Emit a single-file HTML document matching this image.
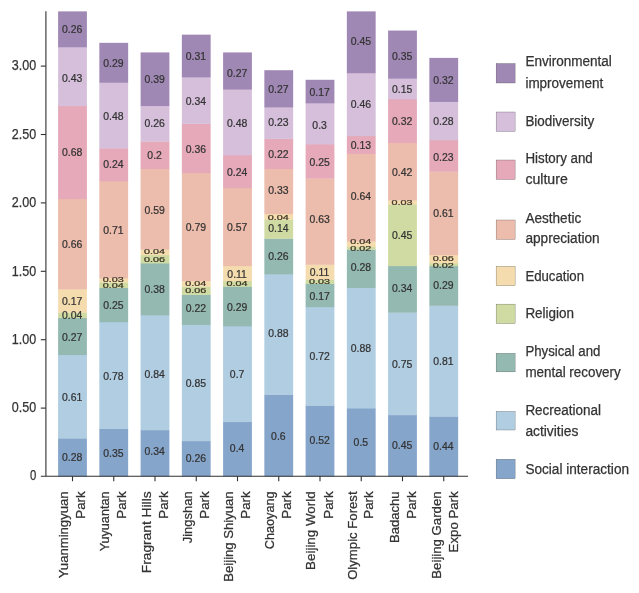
<!DOCTYPE html>
<html lang="en">
<head>
<meta charset="utf-8">
<title>Cultural ecosystem services of Beijing parks</title>
<style>
html,body{margin:0;padding:0;background:#fff;}
body{width:639px;height:593px;overflow:hidden;font-family:"Liberation Sans",sans-serif;}
svg{display:block;}
</style>
</head>
<body>
<svg width="639" height="593" viewBox="0 0 639 593" font-family="'Liberation Sans', sans-serif">
<rect width="639" height="593" fill="#fff"/>
<g>
<rect x="58.10" y="438.20" width="28.80" height="38.30" fill="#86a5cb"/>
<rect x="58.10" y="354.75" width="28.80" height="83.75" fill="#b0cde2"/>
<rect x="58.10" y="317.81" width="28.80" height="37.24" fill="#93b9b0"/>
<rect x="58.10" y="312.34" width="28.80" height="5.77" fill="#cfdba2"/>
<rect x="58.10" y="289.08" width="28.80" height="23.56" fill="#f5dcae"/>
<rect x="58.10" y="198.80" width="28.80" height="90.59" fill="#ecbcac"/>
<rect x="58.10" y="105.77" width="28.80" height="93.32" fill="#e5a9b9"/>
<rect x="58.10" y="46.95" width="28.80" height="59.12" fill="#d5bfdb"/>
<rect x="58.10" y="11.38" width="28.80" height="35.87" fill="#a088b5"/>
</g>
<g>
<rect x="99.35" y="428.62" width="28.80" height="47.88" fill="#86a5cb"/>
<rect x="99.35" y="321.92" width="28.80" height="107.00" fill="#b0cde2"/>
<rect x="99.35" y="287.72" width="28.80" height="34.50" fill="#93b9b0"/>
<rect x="99.35" y="282.24" width="28.80" height="5.77" fill="#cfdba2"/>
<rect x="99.35" y="278.14" width="28.80" height="4.40" fill="#f5dcae"/>
<rect x="99.35" y="181.01" width="28.80" height="97.43" fill="#ecbcac"/>
<rect x="99.35" y="148.18" width="28.80" height="33.13" fill="#e5a9b9"/>
<rect x="99.35" y="82.52" width="28.80" height="65.96" fill="#d5bfdb"/>
<rect x="99.35" y="42.84" width="28.80" height="39.97" fill="#a088b5"/>
</g>
<g>
<rect x="140.60" y="429.99" width="28.80" height="46.51" fill="#86a5cb"/>
<rect x="140.60" y="315.08" width="28.80" height="115.21" fill="#b0cde2"/>
<rect x="140.60" y="263.09" width="28.80" height="52.28" fill="#93b9b0"/>
<rect x="140.60" y="254.88" width="28.80" height="8.51" fill="#cfdba2"/>
<rect x="140.60" y="249.41" width="28.80" height="5.77" fill="#f5dcae"/>
<rect x="140.60" y="168.70" width="28.80" height="81.01" fill="#ecbcac"/>
<rect x="140.60" y="141.34" width="28.80" height="27.66" fill="#e5a9b9"/>
<rect x="140.60" y="105.77" width="28.80" height="35.87" fill="#d5bfdb"/>
<rect x="140.60" y="52.42" width="28.80" height="53.65" fill="#a088b5"/>
</g>
<g>
<rect x="181.85" y="440.93" width="28.80" height="35.57" fill="#86a5cb"/>
<rect x="181.85" y="324.65" width="28.80" height="116.58" fill="#b0cde2"/>
<rect x="181.85" y="294.56" width="28.80" height="30.40" fill="#93b9b0"/>
<rect x="181.85" y="286.35" width="28.80" height="8.51" fill="#cfdba2"/>
<rect x="181.85" y="280.88" width="28.80" height="5.77" fill="#f5dcae"/>
<rect x="181.85" y="172.80" width="28.80" height="108.37" fill="#ecbcac"/>
<rect x="181.85" y="123.56" width="28.80" height="49.55" fill="#e5a9b9"/>
<rect x="181.85" y="77.04" width="28.80" height="46.81" fill="#d5bfdb"/>
<rect x="181.85" y="34.64" width="28.80" height="42.71" fill="#a088b5"/>
</g>
<g>
<rect x="223.10" y="421.78" width="28.80" height="54.72" fill="#86a5cb"/>
<rect x="223.10" y="326.02" width="28.80" height="96.06" fill="#b0cde2"/>
<rect x="223.10" y="286.35" width="28.80" height="39.97" fill="#93b9b0"/>
<rect x="223.10" y="280.88" width="28.80" height="5.77" fill="#cfdba2"/>
<rect x="223.10" y="265.83" width="28.80" height="15.35" fill="#f5dcae"/>
<rect x="223.10" y="187.85" width="28.80" height="78.28" fill="#ecbcac"/>
<rect x="223.10" y="155.02" width="28.80" height="33.13" fill="#e5a9b9"/>
<rect x="223.10" y="89.36" width="28.80" height="65.96" fill="#d5bfdb"/>
<rect x="223.10" y="52.42" width="28.80" height="37.24" fill="#a088b5"/>
</g>
<g>
<rect x="264.35" y="394.42" width="28.80" height="82.08" fill="#86a5cb"/>
<rect x="264.35" y="274.04" width="28.80" height="120.68" fill="#b0cde2"/>
<rect x="264.35" y="238.47" width="28.80" height="35.87" fill="#93b9b0"/>
<rect x="264.35" y="219.32" width="28.80" height="19.45" fill="#cfdba2"/>
<rect x="264.35" y="213.84" width="28.80" height="5.77" fill="#f5dcae"/>
<rect x="264.35" y="168.70" width="28.80" height="45.44" fill="#ecbcac"/>
<rect x="264.35" y="138.60" width="28.80" height="30.40" fill="#e5a9b9"/>
<rect x="264.35" y="107.14" width="28.80" height="31.76" fill="#d5bfdb"/>
<rect x="264.35" y="70.20" width="28.80" height="37.24" fill="#a088b5"/>
</g>
<g>
<rect x="305.60" y="405.36" width="28.80" height="71.14" fill="#86a5cb"/>
<rect x="305.60" y="306.87" width="28.80" height="98.80" fill="#b0cde2"/>
<rect x="305.60" y="283.61" width="28.80" height="23.56" fill="#93b9b0"/>
<rect x="305.60" y="279.51" width="28.80" height="4.40" fill="#cfdba2"/>
<rect x="305.60" y="264.46" width="28.80" height="15.35" fill="#f5dcae"/>
<rect x="305.60" y="178.28" width="28.80" height="86.48" fill="#ecbcac"/>
<rect x="305.60" y="144.08" width="28.80" height="34.50" fill="#e5a9b9"/>
<rect x="305.60" y="103.04" width="28.80" height="41.34" fill="#d5bfdb"/>
<rect x="305.60" y="79.78" width="28.80" height="23.56" fill="#a088b5"/>
</g>
<g>
<rect x="346.85" y="408.10" width="28.80" height="68.40" fill="#86a5cb"/>
<rect x="346.85" y="287.72" width="28.80" height="120.68" fill="#b0cde2"/>
<rect x="346.85" y="249.41" width="28.80" height="38.60" fill="#93b9b0"/>
<rect x="346.85" y="246.68" width="28.80" height="3.04" fill="#cfdba2"/>
<rect x="346.85" y="241.20" width="28.80" height="5.77" fill="#f5dcae"/>
<rect x="346.85" y="153.65" width="28.80" height="87.85" fill="#ecbcac"/>
<rect x="346.85" y="135.87" width="28.80" height="18.08" fill="#e5a9b9"/>
<rect x="346.85" y="72.94" width="28.80" height="63.23" fill="#d5bfdb"/>
<rect x="346.85" y="11.38" width="28.80" height="61.86" fill="#a088b5"/>
</g>
<g>
<rect x="388.10" y="414.94" width="28.80" height="61.56" fill="#86a5cb"/>
<rect x="388.10" y="312.34" width="28.80" height="102.90" fill="#b0cde2"/>
<rect x="388.10" y="265.83" width="28.80" height="46.81" fill="#93b9b0"/>
<rect x="388.10" y="204.27" width="28.80" height="61.86" fill="#cfdba2"/>
<rect x="388.10" y="200.16" width="28.80" height="4.40" fill="#f5dcae"/>
<rect x="388.10" y="142.71" width="28.80" height="57.76" fill="#ecbcac"/>
<rect x="388.10" y="98.93" width="28.80" height="44.08" fill="#e5a9b9"/>
<rect x="388.10" y="78.41" width="28.80" height="20.82" fill="#d5bfdb"/>
<rect x="388.10" y="30.53" width="28.80" height="48.18" fill="#a088b5"/>
</g>
<g>
<rect x="429.35" y="416.31" width="28.80" height="60.19" fill="#86a5cb"/>
<rect x="429.35" y="305.50" width="28.80" height="111.11" fill="#b0cde2"/>
<rect x="429.35" y="265.83" width="28.80" height="39.97" fill="#93b9b0"/>
<rect x="429.35" y="263.09" width="28.80" height="3.04" fill="#cfdba2"/>
<rect x="429.35" y="254.88" width="28.80" height="8.51" fill="#f5dcae"/>
<rect x="429.35" y="171.44" width="28.80" height="83.75" fill="#ecbcac"/>
<rect x="429.35" y="139.97" width="28.80" height="31.76" fill="#e5a9b9"/>
<rect x="429.35" y="101.67" width="28.80" height="38.60" fill="#d5bfdb"/>
<rect x="429.35" y="57.89" width="28.80" height="44.08" fill="#a088b5"/>
</g>
<g stroke="#303030" stroke-width="1.1" fill="none">
<path d="M45.9 11.2V476.3"/>
<path d="M40.8 476.3H468"/>
<path d="M40.8 408.10H45.9"/>
<path d="M40.8 339.70H45.9"/>
<path d="M40.8 271.30H45.9"/>
<path d="M40.8 202.90H45.9"/>
<path d="M40.8 134.50H45.9"/>
<path d="M40.8 66.10H45.9"/>
<path d="M72.50 476.3V481.2"/>
<path d="M113.75 476.3V481.2"/>
<path d="M155.00 476.3V481.2"/>
<path d="M196.25 476.3V481.2"/>
<path d="M237.50 476.3V481.2"/>
<path d="M278.75 476.3V481.2"/>
<path d="M320.00 476.3V481.2"/>
<path d="M361.25 476.3V481.2"/>
<path d="M402.50 476.3V481.2"/>
<path d="M443.75 476.3V481.2"/>
</g>
<g font-size="14" fill="#333333" stroke="#333333" stroke-width="0.25" text-anchor="end">
<text x="36.2" y="479.70" textLength="6.30" lengthAdjust="spacingAndGlyphs">0</text>
<text x="36.2" y="412.40" textLength="24.40" lengthAdjust="spacingAndGlyphs">0.50</text>
<text x="36.2" y="344.00" textLength="24.40" lengthAdjust="spacingAndGlyphs">1.00</text>
<text x="36.2" y="275.60" textLength="24.40" lengthAdjust="spacingAndGlyphs">1.50</text>
<text x="36.2" y="207.20" textLength="24.40" lengthAdjust="spacingAndGlyphs">2.00</text>
<text x="36.2" y="138.80" textLength="24.40" lengthAdjust="spacingAndGlyphs">2.50</text>
<text x="36.2" y="70.40" textLength="24.40" lengthAdjust="spacingAndGlyphs">3.00</text>
</g>
<g font-size="11.6" fill="#333333" stroke="#333333" stroke-width="0.25" text-anchor="middle">
<text transform="translate(72.10 456.89) scale(0.90 1)" x="0" y="4.15">0.28</text>
<text transform="translate(72.10 397.15) scale(0.90 1)" x="0" y="4.15">0.61</text>
<text transform="translate(72.10 336.59) scale(0.90 1)" x="0" y="4.15">0.27</text>
<text transform="translate(72.10 314.93) scale(0.90 1)" x="0" y="4.15">0.04</text>
<text transform="translate(72.10 301.10) scale(0.90 1)" x="0" y="4.15">0.17</text>
<text transform="translate(72.10 243.45) scale(0.90 1)" x="0" y="4.15">0.66</text>
<text transform="translate(72.10 151.49) scale(0.90 1)" x="0" y="4.15">0.68</text>
<text transform="translate(72.10 77.94) scale(0.90 1)" x="0" y="4.15">0.43</text>
<text transform="translate(72.10 28.64) scale(0.90 1)" x="0" y="4.15">0.26</text>
<text transform="translate(113.35 453.11) scale(0.90 1)" x="0" y="4.15">0.35</text>
<text transform="translate(113.35 375.59) scale(0.90 1)" x="0" y="4.15">0.78</text>
<text transform="translate(113.35 304.69) scale(0.90 1)" x="0" y="4.15">0.25</text>
<text transform="translate(113.35 285.50) scale(0.93 0.55)" x="0" y="4.15" stroke="#3a3226" stroke-width="0.35" fill="#3a3226">0.04</text>
<text transform="translate(113.35 279.52) scale(0.93 0.55)" x="0" y="4.15" stroke="#3a3226" stroke-width="0.35" fill="#3a3226">0.03</text>
<text transform="translate(113.35 229.62) scale(0.90 1)" x="0" y="4.15">0.71</text>
<text transform="translate(113.35 164.28) scale(0.90 1)" x="0" y="4.15">0.24</text>
<text transform="translate(113.35 116.34) scale(0.90 1)" x="0" y="4.15">0.48</text>
<text transform="translate(113.35 63.09) scale(0.90 1)" x="0" y="4.15">0.29</text>
<text transform="translate(154.60 451.10) scale(0.90 1)" x="0" y="4.15">0.34</text>
<text transform="translate(154.60 373.36) scale(0.90 1)" x="0" y="4.15">0.84</text>
<text transform="translate(154.60 289.00) scale(0.90 1)" x="0" y="4.15">0.38</text>
<text transform="translate(154.60 259.96) scale(0.93 0.55)" x="0" y="4.15" stroke="#3a3226" stroke-width="0.35" fill="#3a3226">0.06</text>
<text transform="translate(154.60 251.64) scale(0.93 0.55)" x="0" y="4.15" stroke="#3a3226" stroke-width="0.35" fill="#3a3226">0.04</text>
<text transform="translate(154.60 209.44) scale(0.90 1)" x="0" y="4.15">0.59</text>
<text transform="translate(154.60 155.22) scale(0.90 1)" x="0" y="4.15">0.2</text>
<text transform="translate(154.60 123.13) scale(0.90 1)" x="0" y="4.15">0.26</text>
<text transform="translate(154.60 78.77) scale(0.90 1)" x="0" y="4.15">0.39</text>
<text transform="translate(195.85 457.75) scale(0.90 1)" x="0" y="4.15">0.26</text>
<text transform="translate(195.85 383.00) scale(0.90 1)" x="0" y="4.15">0.85</text>
<text transform="translate(195.85 308.27) scale(0.90 1)" x="0" y="4.15">0.22</text>
<text transform="translate(195.85 290.36) scale(0.93 0.55)" x="0" y="4.15" stroke="#3a3226" stroke-width="0.35" fill="#3a3226">0.06</text>
<text transform="translate(195.85 283.54) scale(0.93 0.55)" x="0" y="4.15" stroke="#3a3226" stroke-width="0.35" fill="#3a3226">0.04</text>
<text transform="translate(195.85 226.89) scale(0.90 1)" x="0" y="4.15">0.79</text>
<text transform="translate(195.85 148.40) scale(0.90 1)" x="0" y="4.15">0.36</text>
<text transform="translate(195.85 100.63) scale(0.90 1)" x="0" y="4.15">0.34</text>
<text transform="translate(195.85 55.56) scale(0.90 1)" x="0" y="4.15">0.31</text>
<text transform="translate(237.10 448.10) scale(0.90 1)" x="0" y="4.15">0.4</text>
<text transform="translate(237.10 373.62) scale(0.90 1)" x="0" y="4.15">0.7</text>
<text transform="translate(237.10 306.56) scale(0.90 1)" x="0" y="4.15">0.29</text>
<text transform="translate(237.10 284.03) scale(0.93 0.55)" x="0" y="4.15" stroke="#3a3226" stroke-width="0.35" fill="#3a3226">0.04</text>
<text transform="translate(237.10 273.80) scale(0.90 1)" x="0" y="4.15">0.11</text>
<text transform="translate(237.10 226.89) scale(0.90 1)" x="0" y="4.15">0.57</text>
<text transform="translate(237.10 172.30) scale(0.90 1)" x="0" y="4.15">0.24</text>
<text transform="translate(237.10 122.46) scale(0.90 1)" x="0" y="4.15">0.48</text>
<text transform="translate(237.10 72.48) scale(0.90 1)" x="0" y="4.15">0.27</text>
<text transform="translate(278.35 435.65) scale(0.90 1)" x="0" y="4.15">0.6</text>
<text transform="translate(278.35 332.84) scale(0.90 1)" x="0" y="4.15">0.88</text>
<text transform="translate(278.35 256.24) scale(0.90 1)" x="0" y="4.15">0.26</text>
<text transform="translate(278.35 227.94) scale(0.90 1)" x="0" y="4.15">0.14</text>
<text transform="translate(278.35 217.35) scale(0.93 0.55)" x="0" y="4.15" stroke="#3a3226" stroke-width="0.35" fill="#3a3226">0.04</text>
<text transform="translate(278.35 189.90) scale(0.90 1)" x="0" y="4.15">0.33</text>
<text transform="translate(278.35 153.86) scale(0.90 1)" x="0" y="4.15">0.22</text>
<text transform="translate(278.35 121.95) scale(0.90 1)" x="0" y="4.15">0.23</text>
<text transform="translate(278.35 88.52) scale(0.90 1)" x="0" y="4.15">0.27</text>
<text transform="translate(319.60 440.21) scale(0.90 1)" x="0" y="4.15">0.52</text>
<text transform="translate(319.60 355.38) scale(0.90 1)" x="0" y="4.15">0.72</text>
<text transform="translate(319.60 296.34) scale(0.90 1)" x="0" y="4.15">0.17</text>
<text transform="translate(319.60 281.49) scale(0.93 0.55)" x="0" y="4.15" stroke="#3a3226" stroke-width="0.35" fill="#3a3226">0.03</text>
<text transform="translate(319.60 271.93) scale(0.90 1)" x="0" y="4.15">0.11</text>
<text transform="translate(319.60 219.33) scale(0.90 1)" x="0" y="4.15">0.63</text>
<text transform="translate(319.60 161.37) scale(0.90 1)" x="0" y="4.15">0.25</text>
<text transform="translate(319.60 124.53) scale(0.90 1)" x="0" y="4.15">0.3</text>
<text transform="translate(319.60 91.75) scale(0.90 1)" x="0" y="4.15">0.17</text>
<text transform="translate(360.85 442.18) scale(0.90 1)" x="0" y="4.15">0.5</text>
<text transform="translate(360.85 347.39) scale(0.90 1)" x="0" y="4.15">0.88</text>
<text transform="translate(360.85 267.12) scale(0.90 1)" x="0" y="4.15">0.28</text>
<text transform="translate(360.85 248.95) scale(0.93 0.55)" x="0" y="4.15" stroke="#3a3226" stroke-width="0.35" fill="#3a3226">0.02</text>
<text transform="translate(360.85 241.35) scale(0.93 0.55)" x="0" y="4.15" stroke="#3a3226" stroke-width="0.35" fill="#3a3226">0.04</text>
<text transform="translate(360.85 196.14) scale(0.90 1)" x="0" y="4.15">0.64</text>
<text transform="translate(360.85 144.69) scale(0.90 1)" x="0" y="4.15">0.13</text>
<text transform="translate(360.85 104.22) scale(0.90 1)" x="0" y="4.15">0.46</text>
<text transform="translate(360.85 40.91) scale(0.90 1)" x="0" y="4.15">0.45</text>
<text transform="translate(402.10 444.59) scale(0.90 1)" x="0" y="4.15">0.45</text>
<text transform="translate(402.10 363.39) scale(0.90 1)" x="0" y="4.15">0.75</text>
<text transform="translate(402.10 288.00) scale(0.90 1)" x="0" y="4.15">0.34</text>
<text transform="translate(402.10 235.08) scale(0.90 1)" x="0" y="4.15">0.45</text>
<text transform="translate(402.10 202.32) scale(0.93 0.55)" x="0" y="4.15" stroke="#3a3226" stroke-width="0.35" fill="#3a3226">0.03</text>
<text transform="translate(402.10 171.61) scale(0.90 1)" x="0" y="4.15">0.42</text>
<text transform="translate(402.10 120.60) scale(0.90 1)" x="0" y="4.15">0.32</text>
<text transform="translate(402.10 89.02) scale(0.90 1)" x="0" y="4.15">0.15</text>
<text transform="translate(402.10 55.40) scale(0.90 1)" x="0" y="4.15">0.35</text>
<text transform="translate(443.35 445.97) scale(0.90 1)" x="0" y="4.15">0.44</text>
<text transform="translate(443.35 361.16) scale(0.90 1)" x="0" y="4.15">0.81</text>
<text transform="translate(443.35 284.38) scale(0.90 1)" x="0" y="4.15">0.29</text>
<text transform="translate(443.35 265.42) scale(0.93 0.55)" x="0" y="4.15" stroke="#3a3226" stroke-width="0.35" fill="#3a3226">0.02</text>
<text transform="translate(443.35 258.96) scale(0.93 0.55)" x="0" y="4.15" stroke="#3a3226" stroke-width="0.35" fill="#3a3226">0.06</text>
<text transform="translate(443.35 213.24) scale(0.90 1)" x="0" y="4.15">0.61</text>
<text transform="translate(443.35 156.41) scale(0.90 1)" x="0" y="4.15">0.23</text>
<text transform="translate(443.35 120.60) scale(0.90 1)" x="0" y="4.15">0.28</text>
<text transform="translate(443.35 80.15) scale(0.90 1)" x="0" y="4.15">0.32</text>
</g>
<g font-size="13.1" fill="#333333" stroke="#333333" stroke-width="0.25" text-anchor="end">
<text transform="translate(68.10 491.4) rotate(-90)" x="0" y="0" textLength="86.75" lengthAdjust="spacingAndGlyphs">Yuanmingyuan</text>
<text transform="translate(85.20 491.4) rotate(-90)" x="0" y="0" textLength="27.26" lengthAdjust="spacingAndGlyphs">Park</text>
<text transform="translate(109.35 491.4) rotate(-90)" x="0" y="0" textLength="59.94" lengthAdjust="spacingAndGlyphs">Yuyuantan</text>
<text transform="translate(126.05 491.4) rotate(-90)" x="0" y="0" textLength="27.26" lengthAdjust="spacingAndGlyphs">Park</text>
<text transform="translate(150.60 491.4) rotate(-90)" x="0" y="0" textLength="81.80" lengthAdjust="spacingAndGlyphs">Fragrant Hills</text>
<text transform="translate(168.30 491.4) rotate(-90)" x="0" y="0" textLength="27.26" lengthAdjust="spacingAndGlyphs">Park</text>
<text transform="translate(191.85 491.4) rotate(-90)" x="0" y="0" textLength="51.90" lengthAdjust="spacingAndGlyphs">Jingshan</text>
<text transform="translate(209.05 491.4) rotate(-90)" x="0" y="0" textLength="27.26" lengthAdjust="spacingAndGlyphs">Park</text>
<text transform="translate(232.60 491.4) rotate(-90)" x="0" y="0" textLength="90.32" lengthAdjust="spacingAndGlyphs">Beijing Shiyuan</text>
<text transform="translate(249.80 491.4) rotate(-90)" x="0" y="0" textLength="27.26" lengthAdjust="spacingAndGlyphs">Park</text>
<text transform="translate(274.35 491.4) rotate(-90)" x="0" y="0" textLength="57.88" lengthAdjust="spacingAndGlyphs">Chaoyang</text>
<text transform="translate(291.45 491.4) rotate(-90)" x="0" y="0" textLength="27.26" lengthAdjust="spacingAndGlyphs">Park</text>
<text transform="translate(315.10 491.4) rotate(-90)" x="0" y="0" textLength="78.51" lengthAdjust="spacingAndGlyphs">Beijing World</text>
<text transform="translate(332.80 491.4) rotate(-90)" x="0" y="0" textLength="27.26" lengthAdjust="spacingAndGlyphs">Park</text>
<text transform="translate(356.85 491.4) rotate(-90)" x="0" y="0" textLength="88.48" lengthAdjust="spacingAndGlyphs">Olympic Forest</text>
<text transform="translate(373.45 491.4) rotate(-90)" x="0" y="0" textLength="27.26" lengthAdjust="spacingAndGlyphs">Park</text>
<text transform="translate(399.10 491.4) rotate(-90)" x="0" y="0" textLength="51.60" lengthAdjust="spacingAndGlyphs">Badachu</text>
<text transform="translate(415.80 491.4) rotate(-90)" x="0" y="0" textLength="27.26" lengthAdjust="spacingAndGlyphs">Park</text>
<text transform="translate(440.55 491.4) rotate(-90)" x="0" y="0" textLength="87.30" lengthAdjust="spacingAndGlyphs">Beijing Garden</text>
<text transform="translate(457.75 491.4) rotate(-90)" x="0" y="0" textLength="61.02" lengthAdjust="spacingAndGlyphs">Expo Park</text>
</g>
<g font-size="13.8" fill="#333333" stroke="#333333" stroke-width="0.25">
<rect x="496.1" y="63.50" width="19.0" height="19.5" fill="#a088b5"/>
<text x="525.4" y="66.25" textLength="86.47" lengthAdjust="spacingAndGlyphs">Environmental</text>
<text x="525.4" y="87.50" textLength="77.86" lengthAdjust="spacingAndGlyphs">improvement</text>
<rect x="496.1" y="112.00" width="19.0" height="19.5" fill="#d5bfdb"/>
<text x="525.4" y="125.50" textLength="68.75" lengthAdjust="spacingAndGlyphs">Biodiversity</text>
<rect x="496.1" y="160.00" width="19.0" height="19.5" fill="#e5a9b9"/>
<text x="525.4" y="163.00" textLength="67.37" lengthAdjust="spacingAndGlyphs">History and</text>
<text x="525.4" y="184.25" textLength="42.40" lengthAdjust="spacingAndGlyphs">culture</text>
<rect x="496.1" y="220.00" width="19.0" height="19.5" fill="#ecbcac"/>
<text x="525.4" y="222.50" textLength="55.88" lengthAdjust="spacingAndGlyphs">Aesthetic</text>
<text x="525.4" y="243.25" textLength="74.30" lengthAdjust="spacingAndGlyphs">appreciation</text>
<rect x="496.1" y="266.25" width="19.0" height="19.5" fill="#f5dcae"/>
<text x="525.4" y="280.50" textLength="58.65" lengthAdjust="spacingAndGlyphs">Education</text>
<rect x="496.1" y="304.10" width="19.0" height="19.5" fill="#cfdba2"/>
<text x="525.4" y="318.00" textLength="48.65" lengthAdjust="spacingAndGlyphs">Religion</text>
<rect x="496.1" y="353.30" width="19.0" height="18.6" fill="#93b9b0"/>
<text x="525.4" y="356.25" textLength="74.96" lengthAdjust="spacingAndGlyphs">Physical and</text>
<text x="525.4" y="377.25" textLength="95.32" lengthAdjust="spacingAndGlyphs">mental recovery</text>
<rect x="496.1" y="411.40" width="19.0" height="18.6" fill="#b0cde2"/>
<text x="525.4" y="415.00" textLength="75.65" lengthAdjust="spacingAndGlyphs">Recreational</text>
<text x="525.4" y="436.00" textLength="52.92" lengthAdjust="spacingAndGlyphs">activities</text>
<rect x="496.1" y="459.25" width="19.0" height="19.5" fill="#86a5cb"/>
<text x="525.4" y="474.25" textLength="103.65" lengthAdjust="spacingAndGlyphs">Social interaction</text>
</g>
</svg>
</body>
</html>
